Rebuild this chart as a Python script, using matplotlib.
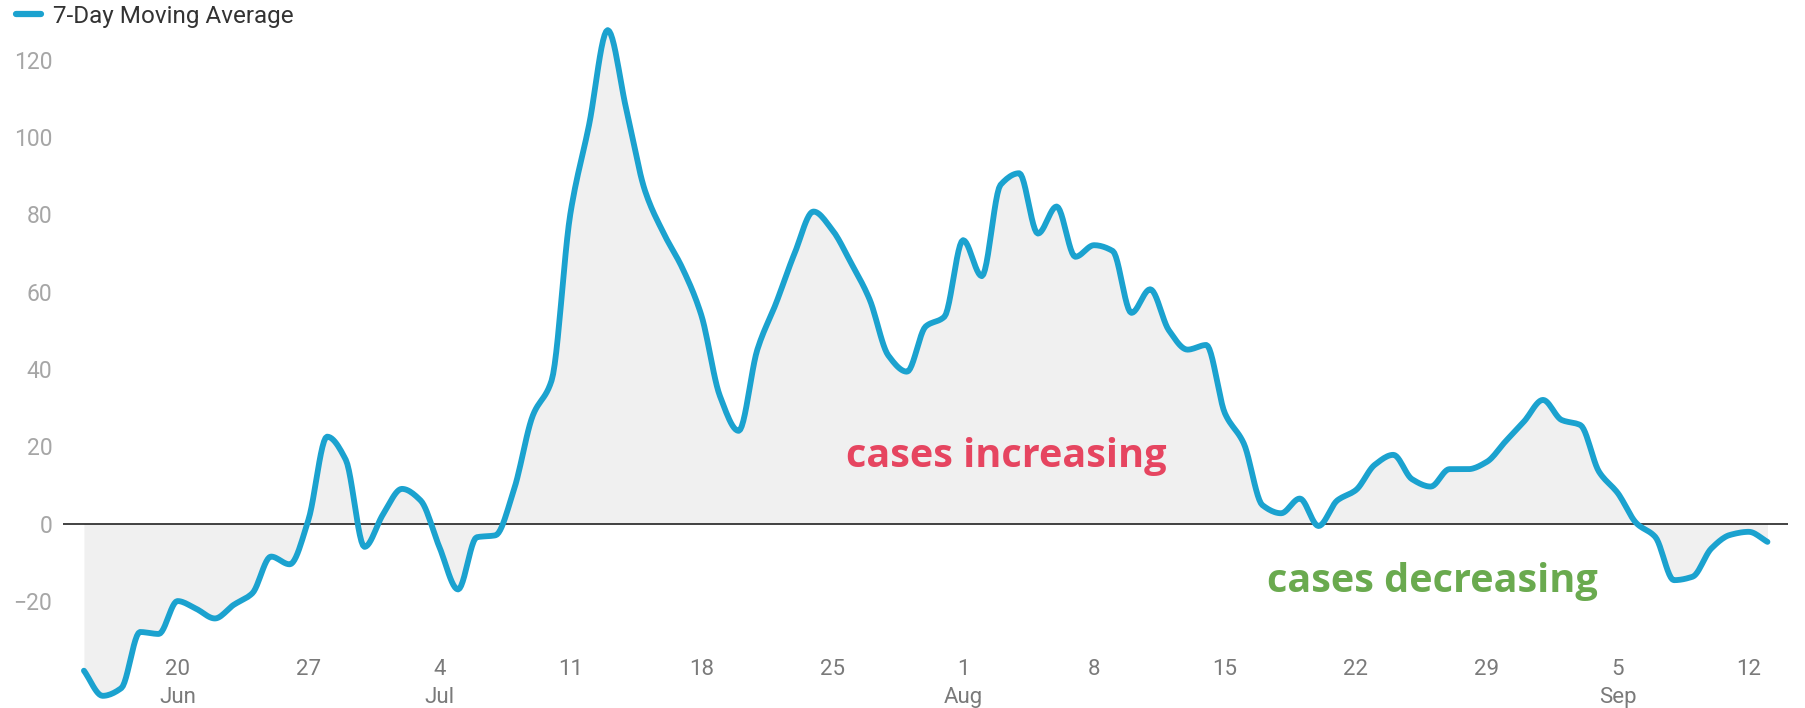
import matplotlib
matplotlib.use("Agg")
import matplotlib.pyplot as plt
import numpy as np
import pandas as pd

plt.rcParams['font.family'] = ['Roboto', 'DejaVu Sans']

# 每日数据：7日移动平均（6月15日 - 9月13日）
dates = pd.date_range('2020-06-15', '2020-09-13', freq='D')
moving_avg = [
    -38, -44.5, -42.5, -28, -28.5, -20, -22, -24.5, -21, -18,
    -8.5, -10.5, 1, 22.5, 16.5, -6, 2.5, 9, 6, -6,
    -17, -3.5, -3, 9, 28, 37, 80, 103, 127.6, 107,
    86, 75, 66, 54, 33, 24, 45, 57, 70, 80.7,
    76, 67.5, 58, 43.5, 39.3, 51, 53.5, 73.3, 64, 87.6,
    90.6, 75, 82, 69, 72, 70.5, 54.5, 60.6, 50, 45,
    46.2, 28.5, 20.8, 4.8, 2.7, 6.5, -0.6, 6, 8.7, 15.2,
    17.8, 11.5, 9.6, 14.1, 14.1, 16, 21.3, 26.5, 32, 26.8,
    25.5, 13.4, 7.9, 0.1, -3.4, -14.6, -13.7, -6.4, -2.9, -2.1,
    -4.7,
]

# x 轴刻度
tick_days = [20, 27, 4, 11, 18, 25, 1, 8, 15, 22, 29, 5, 12]
tick_months = ['Jun', '', 'Jul', '', '', '', 'Aug', '', '', '', '', 'Sep', '']
tick_dates = pd.to_datetime([
    '2020-06-20', '2020-06-27', '2020-07-04', '2020-07-11', '2020-07-18',
    '2020-07-25', '2020-08-01', '2020-08-08', '2020-08-15', '2020-08-22',
    '2020-08-29', '2020-09-05', '2020-09-12',
])
y_ticks = [-20, 0, 20, 40, 60, 80, 100, 120]

LINE_COLOR = '#1ba2cf'
FILL_COLOR = '#f0f0f0'


def monotone_curve(x, y, n=12):
    """单调三次插值，只用于画平滑曲线"""
    x = np.asarray(x, float)
    y = np.asarray(y, float)
    h = np.diff(x)
    d = np.diff(y) / h
    m = np.zeros_like(y)
    m[0], m[-1] = d[0], d[-1]
    for i in range(1, len(y) - 1):
        if d[i - 1] * d[i] <= 0:
            m[i] = 0
        else:
            w1 = 2 * h[i] + h[i - 1]
            w2 = h[i] + 2 * h[i - 1]
            m[i] = (w1 + w2) / (w1 / d[i - 1] + w2 / d[i])
    xs, ys = [], []
    for i in range(len(x) - 1):
        t = np.linspace(0, 1, n, endpoint=False)
        h00 = 2 * t**3 - 3 * t**2 + 1
        h10 = t**3 - 2 * t**2 + t
        h01 = -2 * t**3 + 3 * t**2
        h11 = t**3 - t**2
        xs.append(x[i] + t * h[i])
        ys.append(h00 * y[i] + h10 * h[i] * m[i] + h01 * y[i + 1] + h11 * h[i] * m[i + 1])
    xs.append([x[-1]])
    ys.append([y[-1]])
    return np.concatenate(xs), np.concatenate(ys)


x_num = (dates - dates[0]).days.values
xs, ys = monotone_curve(x_num, moving_avg)
tick_pos = (tick_dates - dates[0]).days.values

fig = plt.figure(figsize=(18.05, 7.08), dpi=100)
ax = fig.add_axes([0.0351, 0.009, 0.9555, 0.9725])

ax.fill_between(xs, ys, 0, color=FILL_COLOR, linewidth=0, zorder=1)
ax.axhline(0, color='#222222', linewidth=1.2, zorder=2)
ax.plot(xs, ys, color=LINE_COLOR, linewidth=4.2, solid_capstyle='round',
        solid_joinstyle='round', zorder=3, label='7-Day Moving Average')

ax.set_xlim(-1.1, 91.1)
ax.set_ylim(-46, 132)

for s in ax.spines.values():
    s.set_visible(False)

ax.set_yticks(y_ticks)
ax.set_yticklabels([str(v).replace('-', '\u2212') for v in y_ticks])
ax.tick_params(axis='y', length=0, pad=8, labelsize=16.5, labelcolor='#a6a6a6')

labels = [f"{d}\n{m}" if m else f"{d}" for d, m in zip(tick_days, tick_months)]
ax.set_xticks(tick_pos)
ax.set_xticklabels(labels, linespacing=1.45)
ax.tick_params(axis='x', length=0, pad=-31, labelsize=16, labelcolor='#7a7a7a')

# 注释文字
ax.text(49.3, 17.3, 'cases increasing', color='#e64560', fontsize=28.5,
        fontweight='bold', family='Open Sans', ha='center', va='center', zorder=4)
ax.text(72.1, -14.9, 'cases decreasing', color='#6aaa4f', fontsize=28.5,
        fontweight='bold', family='Open Sans', ha='center', va='center', zorder=4)

leg = ax.legend(loc='upper left', bbox_to_anchor=(0.006, 1.0),
                bbox_transform=fig.transFigure, frameon=False, fontsize=17.5,
                handlelength=1.05, handletextpad=0.5, borderaxespad=0.1,
                borderpad=0.1)
for t in leg.get_texts():
    t.set_color('#333333')
for h in leg.get_lines():
    h.set_linewidth(4.5)
    h.set_solid_capstyle('round')

fig.savefig('out.png', dpi=100)
